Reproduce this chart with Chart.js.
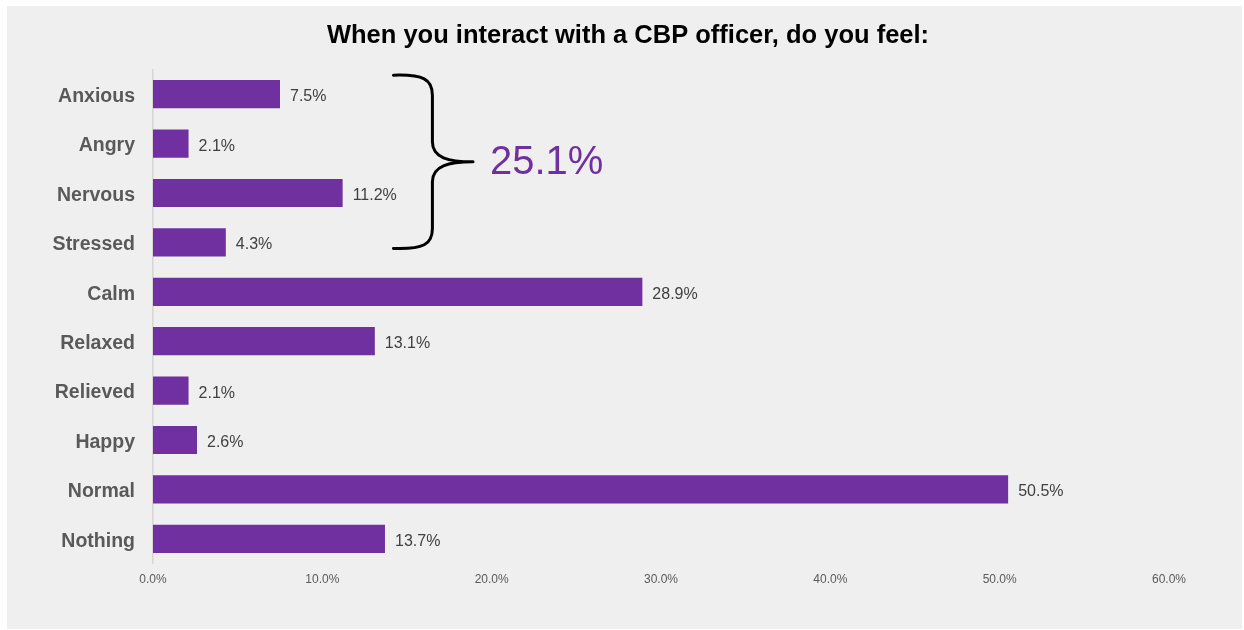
<!DOCTYPE html>
<html>
<head>
<meta charset="utf-8">
<script src="https://cdn.jsdelivr.net/npm/chart.js@4/dist/chart.umd.min.js"></script>
<style>
  html, body { margin: 0; padding: 0; background: #ffffff; }
  #wrap { width: 1244px; height: 630px; position: relative; }
</style>
</head>
<body>
<div id="wrap"><canvas id="c" width="1244" height="630"></canvas></div>
<script>
// Survey responses: feelings when interacting with a CBP officer
const categories = ['Anxious', 'Angry', 'Nervous', 'Stressed', 'Calm', 'Relaxed', 'Relieved', 'Happy', 'Normal', 'Nothing'];
const percentages = [7.5, 2.1, 11.2, 4.3, 28.9, 13.1, 2.1, 2.6, 50.5, 13.7];
const axisTicks = [0, 10, 20, 30, 40, 50, 60];
const chartTitle = 'When you interact with a CBP officer, do you feel:';
// The first four feelings are grouped under one brace with their combined share
const groupedCount = 4;
const groupedTotal = '25.1%';

const FONT = "'Liberation Sans', Arial, Helvetica, sans-serif";
const PURPLE = '#7030A0';

// Light gray panel behind the whole chart, plus the centred title
const panelPlugin = {
  id: 'panel',
  beforeDraw(chart) {
    const ctx = chart.ctx;
    ctx.save();
    ctx.fillStyle = '#efefef';
    ctx.fillRect(7, 6, 1235, 623);
    ctx.font = `bold 25.5px ${FONT}`;
    ctx.fillStyle = '#000000';
    ctx.textAlign = 'center';
    ctx.textBaseline = 'middle';
    ctx.fillText(chartTitle, 628, 36);
    ctx.restore();
  }
};

// Percentage labels just past the end of each bar
const valueLabelPlugin = {
  id: 'valueLabels',
  afterDatasetsDraw(chart) {
    const ctx = chart.ctx;
    const meta = chart.getDatasetMeta(0);
    ctx.save();
    ctx.font = `16px ${FONT}`;
    ctx.fillStyle = '#404040';
    ctx.textAlign = 'left';
    ctx.textBaseline = 'middle';
    meta.data.forEach((bar, i) => {
      ctx.fillText(percentages[i].toFixed(1) + '%', bar.x + 10, bar.y + 2.5);
    });
    ctx.restore();
  }
};

// Curly brace grouping the first categories, with the combined total
const bracePlugin = {
  id: 'brace',
  afterDraw(chart) {
    const ctx = chart.ctx;
    const x = chart.scales.x;
    const y = chart.scales.y;
    const top = y.getPixelForValue(0) - 19;
    const bottom = y.getPixelForValue(groupedCount - 1) + 6;
    const mid = (top + bottom) / 2;
    const xEnd = x.getPixelForValue(14.2);
    const xBar = x.getPixelForValue(16.5);
    const xTip = x.getPixelForValue(18.9);
    const r = 20;
    ctx.save();
    ctx.strokeStyle = '#000000';
    ctx.lineWidth = 3;
    ctx.lineCap = 'round';
    ctx.lineJoin = 'round';
    ctx.beginPath();
    ctx.moveTo(xEnd, top);
    ctx.bezierCurveTo(xEnd + 30, top - 1, xBar, top + 4, xBar, top + r);
    ctx.lineTo(xBar, mid - r);
    ctx.bezierCurveTo(xBar, mid - 4, xBar + 16, mid, xTip, mid);
    ctx.bezierCurveTo(xBar + 16, mid, xBar, mid + 4, xBar, mid + r);
    ctx.lineTo(xBar, bottom - r);
    ctx.bezierCurveTo(xBar, bottom - 4, xEnd + 30, bottom + 1, xEnd, bottom);
    ctx.stroke();

    ctx.font = `40px ${FONT}`;
    ctx.fillStyle = PURPLE;
    ctx.textAlign = 'left';
    ctx.textBaseline = 'middle';
    ctx.fillText(groupedTotal, x.getPixelForValue(19.9), mid + 1);
    ctx.restore();
  }
};

new Chart(document.getElementById('c'), {
  type: 'bar',
  data: {
    labels: categories,
    datasets: [{
      data: percentages,
      backgroundColor: PURPLE,
      borderWidth: 0,
      barPercentage: 0.57,
      categoryPercentage: 1.0
    }]
  },
  plugins: [panelPlugin, valueLabelPlugin, bracePlugin],
  options: {
    indexAxis: 'y',
    responsive: false,
    animation: false,
    events: [],
    layout: { padding: { left: 0, right: 75, top: 69.5, bottom: 0 } },
    plugins: {
      legend: { display: false },
      tooltip: { enabled: false },
      title: { display: false }
    },
    scales: {
      x: {
        min: 0,
        max: 60,
        afterBuildTicks(scale) {
          scale.ticks = axisTicks.map(v => ({ value: v }));
        },
        afterFit(scale) { scale.height = 66.5; },
        grid: { display: false, drawTicks: false },
        border: { display: false },
        ticks: {
          padding: 9,
          color: '#595959',
          font: { family: FONT, size: 12 },
          callback: v => Number(v).toFixed(1) + '%'
        }
      },
      y: {
        afterFit(scale) { scale.width = 153; },
        grid: { display: false, drawTicks: false },
        border: { display: true, color: '#d6d6d6', width: 1.5 },
        ticks: {
          padding: 18,
          labelOffset: 2.5,
          color: '#595959',
          font: { family: FONT, size: 19.5, weight: 'bold' }
        }
      }
    }
  }
});
</script>
</body>
</html>
